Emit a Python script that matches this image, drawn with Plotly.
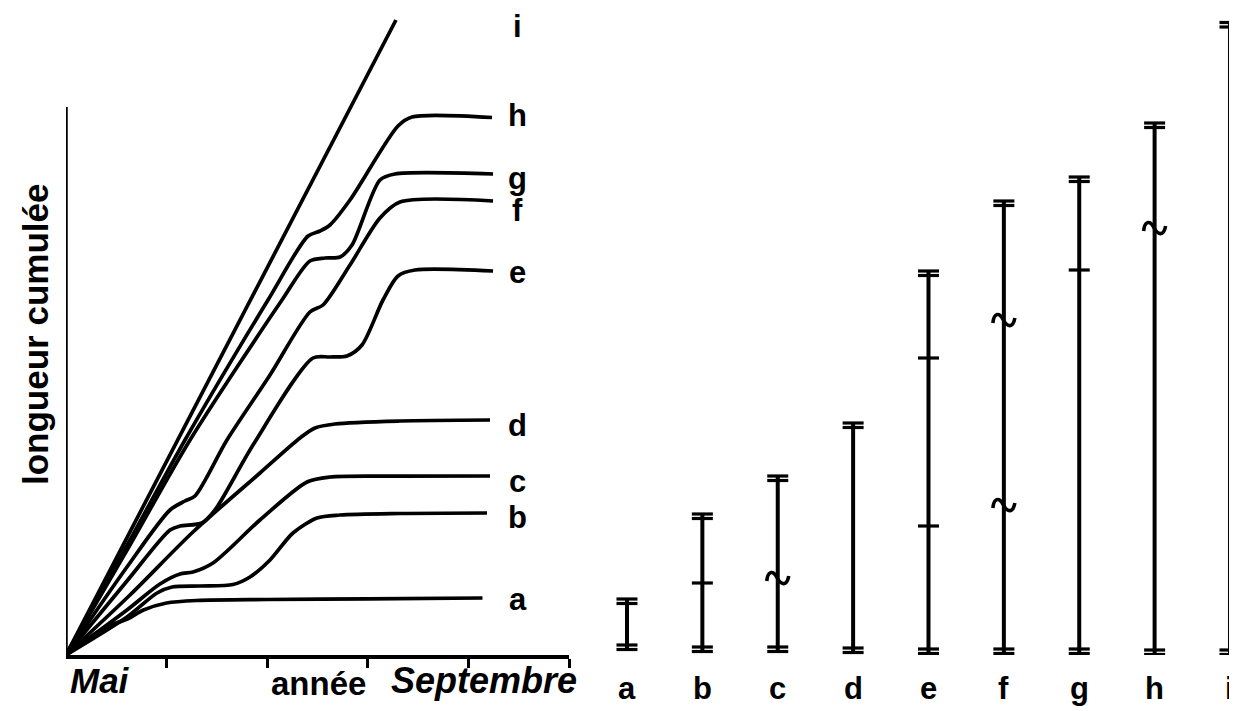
import plotly.graph_objects as go

# ---------------- Left panel: cumulative length curves ----------------
# x: months from "Mai" (tick units), y: cumulative length (arbitrary units)
a_x = [0, 0.40, 0.61, 0.77, 1.0, 1.3, 2.0, 3.0, 4.14]
a_y = [0, 2.8, 3.6, 4.5, 5.2, 5.45, 5.55, 5.62, 5.7]

b_x = [0, 0.606, 0.905, 1.054, 1.332, 1.660, 1.829, 2.028, 2.256, 2.495, 2.724, 3.32, 4.185]
b_y = [0, 3.8, 6.2, 6.8, 6.9, 7.05, 7.8, 9.5, 12.2, 13.7, 14.0, 14.15, 14.2]

c_x = [0, 0.606, 0.934, 1.133, 1.262, 1.461, 1.928, 2.396, 2.624, 3.32, 4.215]
c_y = [0, 4.5, 7.1, 8.1, 8.3, 9.2, 13.5, 17.3, 17.8, 17.88, 17.9]

d_x = [0, 0.636, 1.262, 1.928, 2.326, 2.475, 2.674, 3.32, 4.215]
d_y = [0, 6.0, 12.3, 18.2, 21.7, 22.7, 23.1, 23.4, 23.5]

e_x = [0, 0.606, 1.034, 1.133, 1.352, 1.481, 1.859, 2.455, 2.624, 2.793, 2.942, 3.151, 3.30, 3.469, 4.245]
e_y = [0, 7.4, 12.5, 12.9, 13.2, 14.5, 21.0, 29.7, 29.8, 29.9, 31.0, 35.5, 37.9, 38.5, 38.4]

f_x = [0, 0.606, 1.034, 1.183, 1.282, 1.600, 2.028, 2.425, 2.555, 2.823, 3.121, 3.32, 4.245]
f_y = [0, 8.8, 14.5, 15.4, 15.9, 21.5, 28.0, 34.3, 35.0, 39.0, 43.7, 45.3, 45.4]

g_x = [0, 0.636, 1.233, 2.147, 2.425, 2.575, 2.724, 2.843, 3.121, 3.27, 4.245]
g_y = [0, 11.0, 21.5, 35.5, 39.4, 39.7, 39.8, 41.0, 47.5, 48.1, 48.1]

h_x = [0, 0.636, 1.183, 2.008, 2.406, 2.525, 2.624, 2.823, 3.30, 3.439, 4.235]
h_y = [0, 11.5, 21.5, 35.5, 41.9, 42.4, 43.0, 45.5, 52.9, 53.8, 53.75]

i_x = [0, 3.28]
i_y = [0, 63.5]

curve_names = ["a", "b", "c", "d", "e", "f", "g", "h", "i"]
curve_xs = [a_x, b_x, c_x, d_x, e_x, f_x, g_x, h_x, i_x]
curve_ys = [a_y, b_y, c_y, d_y, e_y, f_y, g_y, h_y, i_y]
label_y = [5.6, 13.8, 17.4, 23.0, 38.3, 44.5, 47.7, 54.0, 62.9]
label_x = 4.49

x_ticks = [1, 2, 3, 4, 5]
y_axis_top = 54.8

# ---------------- Right panel: range bars ----------------
categories = ["a", "b", "c", "d", "e", "f", "g", "h", "i"]
bar_top = [5.6, 14.1, 17.9, 23.2, 38.4, 45.4, 47.8, 53.2, 63.25]
bar_base = [1.0, 0.8, 0.8, 0.7, 0.6, 0.6, 0.6, 0.5, 0.5]
cap_gap = 0.45

tick_cat = [1, 4, 4, 6]
tick_y = [7.2, 29.7, 12.9, 38.5]

tilde_cat = [2, 5, 5, 7]
tilde_y = [7.7, 33.5, 15.0, 42.7]

FONT = "Liberation Sans, Arial, sans-serif"
LW = 3.7
W, H = 1229, 703      # page adds an 8px body margin
PLOT_H = 647
TILDE_PATH = "M -11,-3 C -10,7 -5,8 -1,1 C 3,-7 9,-9 11,2"

fig = go.Figure()

for xs, ys in zip(curve_xs, curve_ys):
    fig.add_trace(go.Scatter(x=xs, y=ys, mode="lines",
                             line=dict(color="black", width=LW, shape="spline", smoothing=0.8),
                             xaxis="x", yaxis="y", hoverinfo="skip"))

# y-axis line (shorter than plot area)
fig.add_trace(go.Scatter(x=[0, 0], y=[0, y_axis_top], mode="lines",
                         line=dict(color="black", width=3.5), xaxis="x", yaxis="y",
                         hoverinfo="skip"))

# vertical bars
vx, vy = [], []
for k, (t, b) in enumerate(zip(bar_top, bar_base)):
    vx += [k, k, None]
    vy += [b - cap_gap, t, None]
fig.add_trace(go.Scatter(x=vx, y=vy, mode="lines", line=dict(color="black", width=4),
                         xaxis="x2", yaxis="y2", hoverinfo="skip"))

# double caps
cx, cy = [], []
for k, (t, b) in enumerate(zip(bar_top, bar_base)):
    cx += [k, k, k, k]
    cy += [t, t - cap_gap, b, b - cap_gap]
fig.add_trace(go.Scatter(x=cx, y=cy, mode="markers",
                         marker=dict(symbol="line-ew", size=15, line=dict(color="black", width=3.2)),
                         xaxis="x2", yaxis="y2", hoverinfo="skip"))

# single mid ticks
fig.add_trace(go.Scatter(x=tick_cat, y=tick_y, mode="markers",
                         marker=dict(symbol="line-ew", size=15, line=dict(color="black", width=3.2)),
                         xaxis="x2", yaxis="y2", hoverinfo="skip"))

# tilde marks (glyph drawn in pixel offsets around each data point)
shapes = []
for k, ty in zip(tilde_cat, tilde_y):
    shapes.append(dict(type="path", xref="x2", yref="y2", xsizemode="pixel", ysizemode="pixel",
                       xanchor=k, yanchor=ty, path=TILDE_PATH,
                       line=dict(color="black", width=3.6)))


def px_x(xr):
    return (xr - 8) / W


def px_y(yr):
    return (655 - yr) / PLOT_H


annotations = []
for name, ly in zip(curve_names, label_y):
    annotations.append(dict(x=label_x, y=ly, xref="x", yref="y", text=f"<b>{name}</b>",
                            xanchor="center", yanchor="middle",
                            showarrow=False, font=dict(family=FONT, size=31, color="black")))
for k, name in enumerate(categories):
    annotations.append(dict(x=k, y=px_y(688), xref="x2", yref="paper", text=f"<b>{name}</b>",
                            xanchor="center", yanchor="middle",
                            showarrow=False, font=dict(family=FONT, size=31, color="black")))

annotations += [
    dict(x=px_x(35), y=px_y(335), xref="paper", yref="paper", text="<b>longueur cumulée</b>",
         textangle=-90, xanchor="center", yanchor="middle",
         showarrow=False, font=dict(family=FONT, size=35, color="black")),
    dict(x=px_x(318), y=px_y(683), xref="paper", yref="paper", text="<b>année</b>",
         xanchor="center", yanchor="middle",
         showarrow=False, font=dict(family=FONT, size=33, color="black")),
    dict(x=px_x(100), y=px_y(680), xref="paper", yref="paper", text="<b><i>Mai</i></b>",
         xanchor="center", yanchor="middle",
         showarrow=False, font=dict(family=FONT, size=35, color="black")),
    dict(x=px_x(484), y=px_y(680), xref="paper", yref="paper", text="<b><i>Septembre</i></b>",
         xanchor="center", yanchor="middle",
         showarrow=False, font=dict(family=FONT, size=36, color="black")),
]

fig.update_layout(
    width=W, height=H,
    margin=dict(l=0, r=0, t=0, b=H - PLOT_H),
    paper_bgcolor="white", plot_bgcolor="white",
    showlegend=False,
    xaxis=dict(domain=[px_x(66), px_x(569)], range=[0, 5], showline=True, linewidth=3.5,
               linecolor="black", ticks="outside", ticklen=9, tickwidth=3, tickcolor="black",
               tickvals=x_ticks, showticklabels=False, showgrid=False, zeroline=False),
    yaxis=dict(domain=[0, 1], range=[0, 64.7], visible=False),
    xaxis2=dict(domain=[px_x(600), 1], range=[-0.358, 8.093], visible=False),
    yaxis2=dict(domain=[0, 1], range=[0, 64.7], visible=False, anchor="x2"),
    annotations=annotations,
    shapes=shapes,
)

fig.write_html("out.html")
